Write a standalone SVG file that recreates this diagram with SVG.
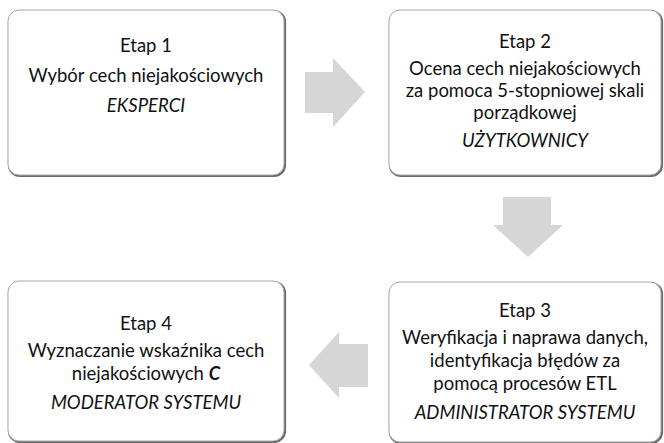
<svg xmlns="http://www.w3.org/2000/svg" width="664" height="443" viewBox="0 0 664 443">
<style>
.box{fill:#fff;stroke:#a8a8a8;stroke-width:1}
.shadow{fill:none;stroke:#6a6a6a;stroke-width:2.2}
.arrow{fill:#d6d6d6}
text{font-family:Lato,"Open Sans","Liberation Sans",sans-serif;font-size:18.5px;fill:#111;text-anchor:middle}
.it{font-style:italic}
.b{font-weight:bold}
</style>
<rect width="664" height="443" fill="#fff"/>
<g id="connectors">
<polygon class="arrow" points="305,72 333,72 333,58 365,92 333,127 333,113 305,113"/>
<polygon class="arrow" points="503,197 551,197 551,225 563,225 528,257 493,225 503,225"/>
<polygon class="arrow" points="368,344 339,344 339,332 309,365 339,398 339,387 368,387"/>
</g>
<g id="etap1">
<rect class="shadow" x="9" y="11" width="276" height="165" rx="11"/>
<rect class="box" x="8" y="10" width="276" height="165" rx="11"/>
<text x="146" y="52">Etap 1</text>
<text x="146" y="82">Wybór cech niejakościowych</text>
<text class="it" x="146" y="112">EKSPERCI</text>
</g>
<g id="etap2">
<rect class="shadow" x="390" y="11" width="272" height="165" rx="11"/>
<rect class="box" x="389" y="10" width="272" height="165" rx="11"/>
<text x="525" y="48">Etap 2</text>
<text x="525" y="75">Ocena cech niejakościowych</text>
<text x="525" y="97">za pomoca 5-stopniowej skali</text>
<text x="525" y="119">porządkowej</text>
<text class="it" x="525" y="147">UŻYTKOWNICY</text>
</g>
<g id="etap3">
<rect class="shadow" x="390" y="283" width="272" height="160" rx="11"/>
<rect class="box" x="389" y="282" width="272" height="160" rx="11"/>
<text x="525" y="317">Etap 3</text>
<text x="525" y="344">Weryfikacja i naprawa danych,</text>
<text x="525" y="367">identyfikacja błędów za</text>
<text x="525" y="390">pomocą procesów ETL</text>
<text class="it" x="525" y="419">ADMINISTRATOR SYSTEMU</text>
</g>
<g id="etap4">
<rect class="shadow" x="9" y="282" width="276" height="160" rx="11"/>
<rect class="box" x="8" y="281" width="276" height="160" rx="11"/>
<text x="146" y="330">Etap 4</text>
<text x="146" y="357">Wyznaczanie wskaźnika cech</text>
<text x="146" y="380">niejakościowych <tspan class="it b">C</tspan></text>
<text class="it" x="146" y="409">MODERATOR SYSTEMU</text>
</g>
</svg>
